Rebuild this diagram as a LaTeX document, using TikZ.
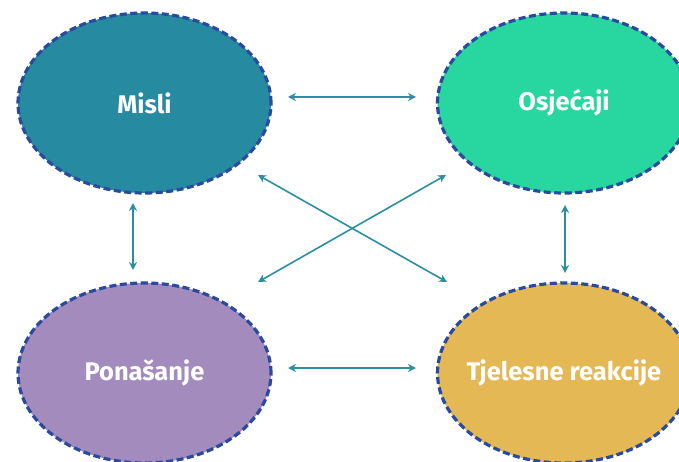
\documentclass[tikz,border=0pt]{standalone}
\usepackage{fontspec}
\setmainfont{Fira Sans}
\usetikzlibrary{shapes.geometric,arrows.meta}
\definecolor{cMisli}{HTML}{268AA0}
\definecolor{cOsj}{HTML}{28D6A0}
\definecolor{cPon}{HTML}{A38BBE}
\definecolor{cTje}{HTML}{E4B955}
\definecolor{cBorder}{HTML}{2A4AA0}
\definecolor{cArrow}{HTML}{2A8FA0}
\newcommand{\zw}[1]{\makebox[0pt]{#1}}
\tikzset{
  bubble/.style={ellipse, draw=cBorder, line width=3.2pt, dash pattern=on 7pt off 3.5pt,
    minimum width=253pt, minimum height=180pt, inner sep=0pt,
    text=white, font=\fontsize{25.5}{30}\selectfont\bfseries},
  link/.style={cArrow, line width=1.6pt, {Stealth[length=8pt,width=8pt]}-{Stealth[length=8pt,width=8pt]}}
}
\begin{document}
\begin{tikzpicture}[x=1pt,y=-1pt]
\useasboundingbox (0,0) rectangle (679,462);
\clip (0,0) rectangle (679,462);
\fill[white] (0,0) rectangle (679,462);
\node[bubble, fill=cMisli] (m) at (144.5,103) {\zw{Misli}};
\node[bubble, fill=cOsj] (o) at (564,103) {\zw{Osjećaji}};
\node[bubble, fill=cPon] (p) at (144.5,373) {\zw{Ponašanje}};
\node[bubble, fill=cTje] (t) at (564,373) {\zw{Tjelesne reakcije}};
\coordinate (h1a) at (288,97); \coordinate (h1b) at (416,97);
\coordinate (h2a) at (288,368); \coordinate (h2b) at (416,368);
\coordinate (v1a) at (133,203); \coordinate (v1b) at (133,270);
\coordinate (v2a) at (565,205); \coordinate (v2b) at (565,273);
\coordinate (d1a) at (258,175); \coordinate (d1b) at (447,282);
\coordinate (d2a) at (258,282); \coordinate (d2b) at (446,175);
\draw[link] (h1a) -- (h1b);
\draw[link] (h2a) -- (h2b);
\draw[link] (v1a) -- (v1b);
\draw[link] (v2a) -- (v2b);
\draw[link] (d1a) -- (d1b);
\draw[link] (d2a) -- (d2b);
\end{tikzpicture}
\end{document}
